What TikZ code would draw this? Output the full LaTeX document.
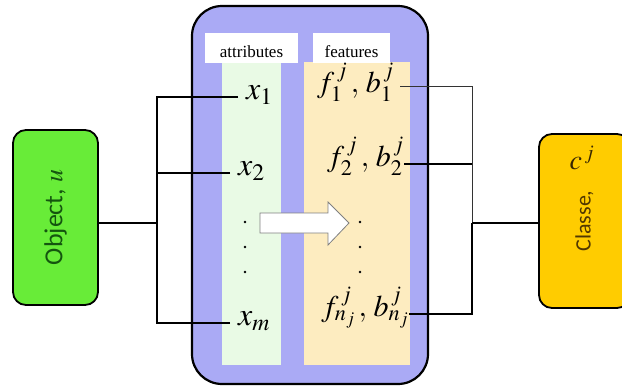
\documentclass[tikz,border=0pt]{standalone}
\usepackage{mathptmx}
\usepackage{fontspec}
\setmainfont{Liberation Serif}
\newfontfamily\boxfont{Carlito}
\usepackage{graphicx}
\definecolor{boxblue}{RGB}{170,170,245}
\definecolor{attrgreen}{RGB}{233,250,229}
\definecolor{featyellow}{RGB}{253,236,192}
\definecolor{objgreen}{RGB}{104,236,56}
\definecolor{objtext}{RGB}{20,85,15}
\definecolor{classgold}{RGB}{255,204,0}
\definecolor{classtext}{RGB}{80,55,0}

\begin{document}
\begin{tikzpicture}[x=1pt, y=-1pt,
  endbox/.style={draw=black, line width=1.8pt, rounded corners=13pt, inner sep=0pt},
  tag/.style={fill=white, inner sep=0pt, text height=25pt, text depth=5pt, font=\fontsize{17}{17}\selectfont},
  sym/.style={inner xsep=8pt, inner ysep=0pt, font=\fontsize{32}{34}\selectfont},
  feat/.style={sym, font=\fontsize{30}{32}\selectfont, inner xsep=0pt, anchor=mid east},
  link/.style={line width=1.6pt}]
  \useasboundingbox (0,0) rectangle (622,389);
  % middle: attributes and features
  \node[draw=black, line width=2.2pt, fill=boxblue, rounded corners=30pt,
        minimum width=236pt, minimum height=378pt] (main) at (310,195) {};
  \fill[attrgreen] (222,62) rectangle (281,365);
  \fill[featyellow] (304,62) rectangle (410,365);
  \node[tag, minimum width=93pt] (attr) at (251.5,47.5) {attributes};
  \node[tag, minimum width=77pt] (feat) at (351.5,47.5) {features};
  \node[sym, anchor=mid west] (x1) at (238,97) {$x_1$};
  \node[sym, anchor=mid west] (x2) at (230,173) {$x_2$};
  \node[sym, anchor=mid west] (xm) at (230,323) {$x_m$};
  \node[feat, inner xsep=6pt] (f1) at (400,90) {$f_1^{\,j}\,,\,b_1^{\,j}$};
  \node[feat] (f2) at (404,164) {$f_2^{\,j}\,,\,b_2^{\,j}$};
  \node[feat] (fn) at (409,314) {$f_{n_j}^{\,j}\,,\,b_{n_j}^{\,j}$};
  \foreach \y in {222,247,272} {
    \fill (245,\y) circle (1.3);
    \fill (360,\y) circle (1.3);
  }
  % arrow from attributes to features
  \draw[draw=gray, line width=0.8pt, fill=white] (260,213) -- (328,213) -- (328,202) -- (349,223)
    -- (328,245) -- (328,233) -- (260,233) -- cycle;
  % left: object and its attributes
  \node[endbox, fill=objgreen, minimum width=85pt, minimum height=175pt,
        font=\boxfont\fontsize{26}{26}\selectfont, text=objtext] (obj) at (55.5,217.5)
        {\rotatebox{90}{Object, $u$}};
  \coordinate (lb) at (157,223);
  \draw[link] (obj.east |- lb) -- (lb);
  \draw[link] (x1.mid west) -| (lb);
  \draw[link] (x2.mid west) -- (x2.mid west -| lb);
  \draw[link] (xm.mid west) -| (lb);
  % right: features to class
  \node[endbox, fill=classgold, minimum width=91pt, minimum height=174pt,
        font=\boxfont\fontsize{22}{22}\selectfont, text=classtext] (cls) at (584.5,221)
        {\rotatebox{90}{Classe,}};
  \node[font=\fontsize{28}{28}\selectfont, text=classtext!70!black] (cj) at (582,158) {$c^{\,j}$};
  \coordinate (rb) at (472,223);
  \draw[line width=0.7pt, black!80] ([yshift=4pt]f1.mid east) -| (rb);
  \draw[link] (f2.mid east) -- (f2.mid east -| rb);
  \draw[link] (fn.mid east) -| (rb);
  \draw[link] (rb) -- (rb -| cls.west);
\end{tikzpicture}
\end{document}
